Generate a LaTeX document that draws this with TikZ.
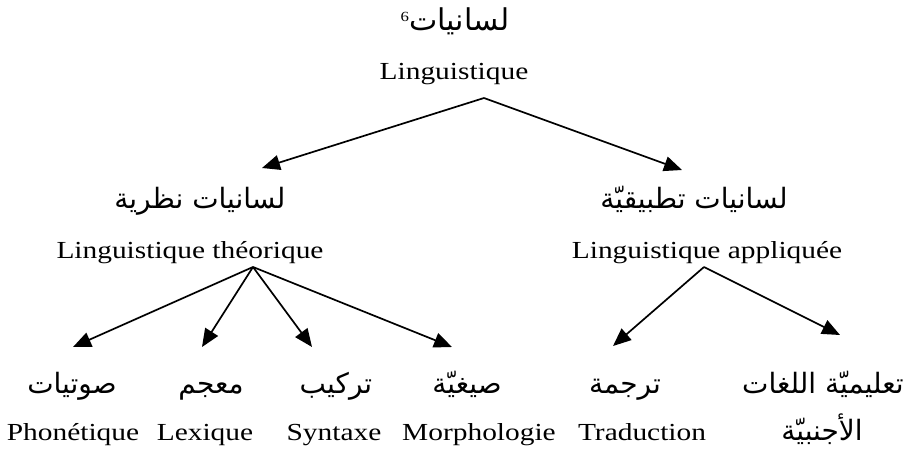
\documentclass[tikz,border=0pt]{standalone}
\usepackage{fontspec}
\setmainfont{Liberation Serif}[FakeStretch=1.2]
\newfontfamily\arabicfont[Script=Arabic]{DejaVu Sans}
\TeXXeTstate=1
\usetikzlibrary{arrows.meta}
\begin{document}
\begin{tikzpicture}[x=1pt,y=-1pt,
	fr/.style={anchor=base,inner sep=0pt,font=\fontsize{24.5}{28}\selectfont},
	ar/.style={anchor=base,inner sep=0pt,font=\arabicfont\fontsize{28}{32}\selectfont},
	fleche/.style={-{Triangle[length=18pt,width=15pt]},line width=1.7pt}]
	\useasboundingbox (0,0) rectangle (913,452);
	% racine
	\node[ar,font=\arabicfont\fontsize{30}{34}\selectfont] (racine) at (455,31) {\beginR لسانيات\textsuperscript{\rmfamily\fontsize{14}{16}\selectfont 6}\endR};
	\node[fr] (racinefr) at (454,80) {Linguistique};
	% niveau 2
	\node[ar] (theo) at (200,208) {\beginR لسانيات نظرية\endR};
	\node[fr] (theofr) at (190,258) {Linguistique théorique};
	\node[ar] (appl) at (694,208) {\beginR لسانيات تطبيقيّة\endR};
	\node[fr] (applfr) at (707,258) {Linguistique appliquée};
	% niveau 3
	\foreach \nom/\xa/\xf/\txtar/\txtfr in {phon/72/73/صوتيات/Phonétique,lex/211/205/معجم/Lexique,syn/336/334/تركيب/Syntaxe,morph/467/479/صيغيّة/Morphologie,trad/625/642/ترجمة/Traduction}{
		\node[ar] (\nom) at (\xa,393) {\beginR\txtar\endR};
		\node[fr] (\nom fr) at (\xf,440) {\txtfr};
	}
	\node[ar] (didac) at (823,393) {\beginR تعليميّة اللغات\endR};
	\node[ar] (didac2) at (822,440) {\beginR الأجنبيّة\endR};
	% fleches
	\coordinate (s1) at (484,98);
	\coordinate (s2) at (253,267);
	\coordinate (s3) at (704,267);
	\coordinate (theoT) at (262,168);
	\coordinate (applT) at (682,170);
	\draw[fleche] (s1)--(theoT);
	\draw[fleche] (s1)--(applT);
	\foreach \nom/\x in {phon/73,lex/202,syn/312,morph/452}
		\draw[fleche] (s2)--(\x,347) coordinate (\nom T);
	\draw[fleche] (s3)--(613,346) coordinate (tradT);
	\draw[fleche] (s3)--(840,335) coordinate (didacT);
\end{tikzpicture}
\end{document}
